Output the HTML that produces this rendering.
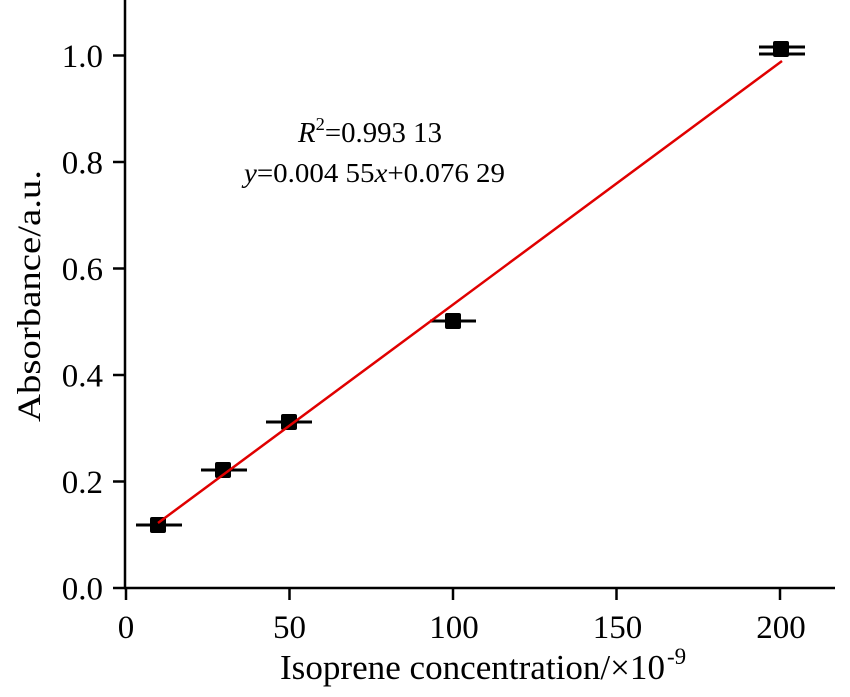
<!DOCTYPE html>
<html><head><meta charset="utf-8"><style>
html,body{margin:0;padding:0;background:#fff;}
svg text{font-family:"Liberation Serif",serif;fill:#000;}
</style></head><body>
<svg width="850" height="692" viewBox="0 0 850 692" xmlns="http://www.w3.org/2000/svg">
<g stroke="#000" stroke-width="2.5" fill="none">
<line x1="125" y1="0" x2="125" y2="589"/>
<line x1="124" y1="588" x2="835" y2="588"/>
<line x1="113" y1="588" x2="125" y2="588"/>
<line x1="113" y1="481.5" x2="125" y2="481.5"/>
<line x1="113" y1="375" x2="125" y2="375"/>
<line x1="113" y1="268.5" x2="125" y2="268.5"/>
<line x1="113" y1="162" x2="125" y2="162"/>
<line x1="113" y1="55.5" x2="125" y2="55.5"/>
<line x1="126" y1="588" x2="126" y2="600"/>
<line x1="289.5" y1="588" x2="289.5" y2="600"/>
<line x1="453" y1="588" x2="453" y2="600"/>
<line x1="616.5" y1="588" x2="616.5" y2="600"/>
<line x1="780" y1="588" x2="780" y2="600"/>
</g>
<g font-size="33" text-anchor="end">
<text x="103" y="599.5">0.0</text>
<text x="103" y="493">0.2</text>
<text x="103" y="386.5">0.4</text>
<text x="103" y="280">0.6</text>
<text x="103" y="173.5">0.8</text>
<text x="103" y="67">1.0</text>
</g>
<g font-size="33" text-anchor="middle">
<text x="126" y="638">0</text>
<text x="289.5" y="638">50</text>
<text x="454" y="638">100</text>
<text x="617.5" y="638">150</text>
<text x="781" y="638">200</text>
</g>
<text x="280" y="679" font-size="35" textLength="385" lengthAdjust="spacingAndGlyphs">Isoprene concentration/×10</text><text x="667" y="664" font-size="23">-9</text>
<text transform="translate(40,296) rotate(-90)" font-size="33" text-anchor="middle" textLength="252" lengthAdjust="spacingAndGlyphs">Absorbance/a.u.</text>
<g stroke="#000" stroke-width="3">
<line x1="136" y1="525" x2="182" y2="525"/>
<line x1="201" y1="470" x2="247" y2="470"/>
<line x1="266" y1="422" x2="312" y2="422"/>
<line x1="430" y1="321" x2="476" y2="321"/>
<line x1="759" y1="47" x2="805" y2="47"/>
<line x1="759" y1="54" x2="805" y2="54"/>
</g>
<g fill="#000">
<rect x="150" y="517" width="16" height="16" rx="2"/>
<rect x="215" y="462" width="16" height="16" rx="2"/>
<rect x="281" y="414" width="16" height="16" rx="2"/>
<rect x="445" y="313" width="16" height="16" rx="2"/>
<rect x="773" y="41" width="16" height="16" rx="2"/>
</g>
<line x1="158" y1="523" x2="782" y2="61" stroke="#e00000" stroke-width="2.5"/>
<text x="298" y="142" font-size="28" textLength="144" lengthAdjust="spacingAndGlyphs"><tspan font-style="italic">R</tspan><tspan dy="-12" font-size="18">2</tspan><tspan dy="12">=0.993 13</tspan></text>
<text x="244" y="182" font-size="27" textLength="261" lengthAdjust="spacingAndGlyphs"><tspan font-style="italic">y</tspan>=0.004 55<tspan font-style="italic">x</tspan>+0.076 29</text>
</svg>
</body></html>
